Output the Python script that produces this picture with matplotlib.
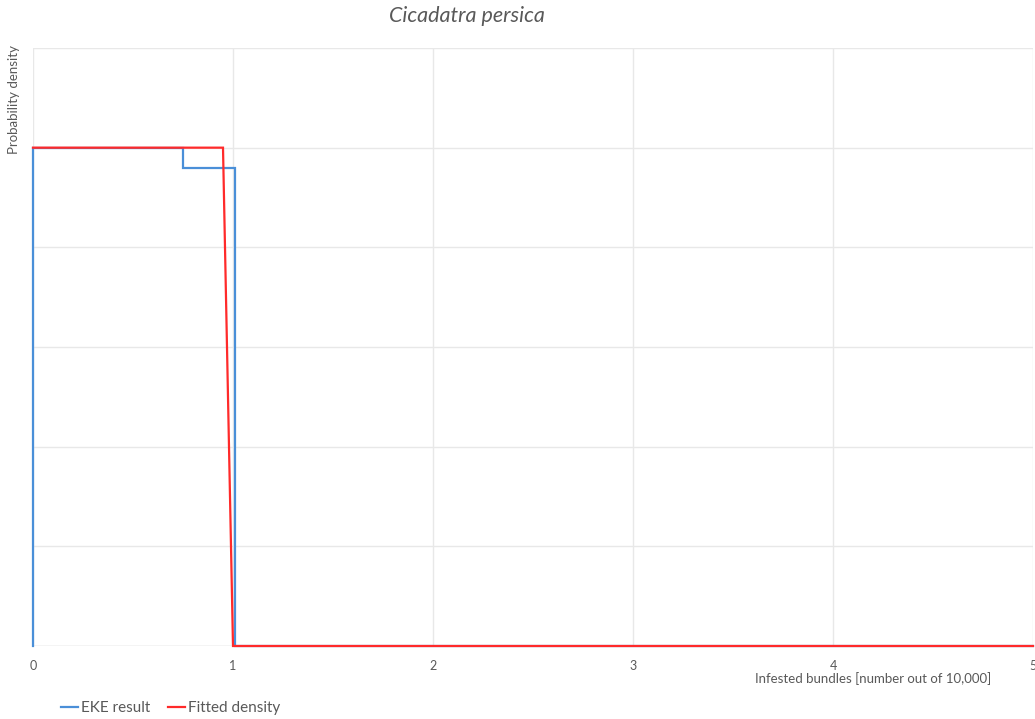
import matplotlib.pyplot as plt

plt.rcParams['font.family'] = ['Lato', 'DejaVu Sans']

# EKE result (step shaped)
eke_x = [0, 0, 0.75, 0.75, 1.01, 1.01, 5]
eke_y = [0, 5, 5, 4.8, 4.8, 0, 0]

# fitted density
fit_x = [0, 0.95, 1.0, 5]
fit_y = [5, 5, 0, 0]

xticks = [0, 1, 2, 3, 4, 5]
grey = '#595959'

fig = plt.figure(figsize=(10.35, 7.19), dpi=100)
ax = fig.add_axes([33/1035, 73/719, 1000/1035, 598/719])

ax.plot(eke_x, eke_y, color='#4a8fd8', lw=1.6, label='EKE result',
        solid_joinstyle='miter', clip_on=False)
ax.plot(fit_x, fit_y, color='#ff2a2a', lw=1.6, label='Fitted density',
        solid_joinstyle='miter', clip_on=False)

ax.set_xlim(0, 5)
ax.set_ylim(0, 6)
ax.set_xticks(xticks)
ax.set_xticklabels([str(t) for t in xticks])
ax.set_yticks(range(7))
ax.set_yticklabels([])
ax.tick_params(length=0, labelsize=9, colors=grey, pad=10)
ax.grid(True, color='#e8e8e8', lw=1)
ax.set_axisbelow(True)
for s in ax.spines.values():
    s.set_visible(False)
ax.axhline(0, color='#d9d9d9', lw=1, zorder=0)

fig.text(467/1035, 1 - 16/719, 'Cicadatra persica', style='italic', fontsize=15.5,
         color=grey, ha='center', va='center')
fig.text(14/1035, 1 - 45/719, 'Probability density', rotation=90, fontsize=9.5,
         color=grey, ha='center', va='top')
fig.text(873/1035, 1 - 679/719, 'Infested bundles [number out of 10,000]', fontsize=9.5,
         color=grey, ha='center', va='center')

fig.legend(loc='lower left', bbox_to_anchor=(47/1035, -0.014), ncol=2, frameon=False,
           fontsize=11, labelcolor=grey, handlelength=1.1, handletextpad=0.2,
           columnspacing=1.2)

fig.savefig('out.png', dpi=100)
